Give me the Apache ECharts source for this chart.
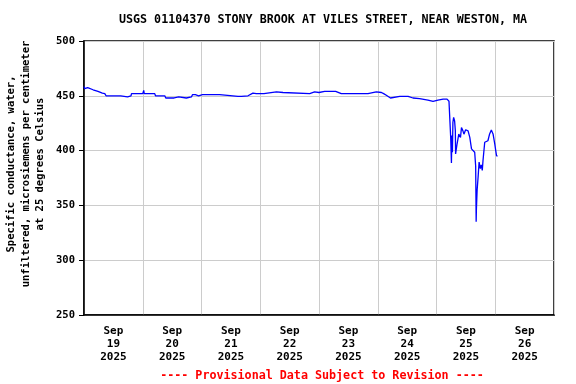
<!DOCTYPE html>
<html>
<head>
<meta charset="utf-8">
<script src="https://cdn.jsdelivr.net/npm/echarts@6/dist/echarts.min.js"></script>
<style>html,body{margin:0;padding:0;background:#fff}#c{width:576px;height:384px}</style>
</head>
<body>
<div id="c"></div>
<script>
// Hours since 2025-09-19 00:00
var hoursSinceStart = [
  0.0, 0.3, 0.7, 1.5, 3.7, 5.7, 7.5, 8.5, 9.0, 15.0, 15.3, 17.8, 18.0, 19.2, 19.4, 24.0, 24.4, 24.6,
  28.9, 29.2, 33.0, 33.4, 36.8, 37.1, 38.7, 39.1, 41.8, 42.1, 43.9, 44.3, 45.5, 45.9, 46.8, 47.0,
  48.4, 55.4, 55.8, 62.9, 63.3, 64.3, 67.0, 67.7, 69.0, 70.4, 73.5, 73.9, 78.6, 81.3, 81.6, 92.2,
  94.2, 96.0, 98.3, 102.8, 105.1, 116.0, 116.7, 119.4, 121.5, 122.4, 123.5, 125.2, 129.0, 132.4,
  134.4, 137.1, 140.5, 141.2, 142.6, 144.6, 146.7, 148.3, 149.1, 149.4, 149.8, 150.1, 150.3, 150.5,
  150.7, 151.0, 151.4, 151.7, 151.8, 152.4, 153.1, 153.8, 154.2, 154.8, 155.2, 155.9, 156.9, 157.6,
  158.3, 158.9, 159.6, 160.0, 160.2, 160.3, 160.6, 161.0, 161.4, 161.9, 162.3, 162.7, 163.0, 163.7,
  165.0, 165.7, 166.4, 167.1, 167.8, 168.2, 168.5, 168.9
];
var conductance = [
  458.5, 456.5, 456, 457.5, 455.5, 454, 452.5, 452, 450, 450, 449, 449, 450, 450, 452, 452, 455, 452,
  452, 450, 450, 448, 448, 449, 449, 448, 448, 449, 449, 451, 451, 450, 450, 451.5,
  451, 451, 449.5, 449.5, 448.5, 449.5, 450, 451, 452.5, 452, 452, 453.5, 453.5, 453, 452, 452,
  453.5, 453, 454, 454, 452, 452, 453, 453.5, 453, 452, 450.5, 448, 449.5, 449.5,
  448, 447.5, 446, 444.5, 445, 446, 447, 447, 445, 444, 412, 388.6, 413.7, 398.5,
  425.7, 430.3, 427, 418, 397, 406, 415, 412, 421, 418, 415, 419, 418, 412,
  401.6, 400, 398.5, 386, 335, 346.6, 364, 376, 389.5, 383.5, 387, 382, 391, 407.6,
  409, 415.2, 418.8, 415.2, 406.2, 400, 395.6, 394.7
];
var monthLabel = 'Sep';
var dayLabels = ['19', '20', '21', '22', '23', '24', '25', '26'];
var yearLabel = '2025';
var yTicks = [250, 300, 350, 400, 450, 500];
var titleText = 'USGS 01104370 STONY BROOK AT VILES STREET, NEAR WESTON, MA';
var yAxisName = 'Specific conductance, water,\nunfiltered, microsiemens per centimeter\nat 25 degrees Celsius';
var footerText = '---- Provisional Data Subject to Revision ----';

var seriesData = hoursSinceStart.map(function (h, i) { return [h, conductance[i]]; });
var FONT = 'DejaVu Sans Mono';

var chart = echarts.init(document.getElementById('c'), null, {renderer: 'canvas'});
chart.setOption({
  animation: false,
  backgroundColor: '#ffffff',
  title: [
    {text: titleText, left: 318, top: 9, textAlign: 'center',
     textStyle: {fontFamily: FONT, fontWeight: 'bold', fontSize: 11.7, color: '#000'}},
    {text: footerText, left: 317, top: 365, textAlign: 'center',
     textStyle: {fontFamily: FONT, fontWeight: 'bold', fontSize: 11.7, color: '#ff0000'}}
  ],
  graphic: [{
    type: 'text', x: 26, y: 164, rotation: Math.PI / 2, silent: true,
    style: {text: yAxisName, align: 'center', verticalAlign: 'middle', lineHeight: 14.5,
            fontFamily: FONT, fontWeight: 'bold', fontSize: 10.5, fill: '#000'}
  }],
  grid: {left: 84, right: 22, top: 41, bottom: 69, show: true, borderColor: '#000', borderWidth: 1.5,
         containLabel: false, outerBoundsMode: 'none'},
  xAxis: [
    {type: 'value', min: 0, max: 192, interval: 24, position: 'bottom',
     axisLine: {show: true, lineStyle: {color: '#000', width: 1.5}},
     axisTick: {show: false}, axisLabel: {show: false},
     splitLine: {show: true, lineStyle: {color: '#cccccc', width: 1}}},
    {type: 'value', min: 0, max: 192, interval: 12, position: 'bottom',
     axisLine: {show: false}, axisTick: {show: false}, splitLine: {show: false},
     axisLabel: {show: true, margin: 10, lineHeight: 13,
       fontFamily: FONT, fontWeight: 'bold', fontSize: 11, color: '#000',
       formatter: function (v) {
         if (v % 24 !== 12) return '';
         var k = (v - 12) / 24;
         return monthLabel + '\n' + dayLabels[k] + '\n' + yearLabel;
       }}}
  ],
  yAxis: {
    type: 'value', min: yTicks[0], max: yTicks[yTicks.length - 1], interval: 50,
    axisLine: {show: true, lineStyle: {color: '#000', width: 1.5}},
    axisTick: {show: true, inside: false, length: 5, lineStyle: {color: '#000'}},
    axisLabel: {margin: 9, fontFamily: FONT, fontWeight: 'bold', fontSize: 10.5, color: '#000'},
    splitLine: {show: true, lineStyle: {color: '#cccccc', width: 1}}
  },
  series: [{
    type: 'line', xAxisIndex: 0, data: seriesData, showSymbol: false, symbol: 'none',
    lineStyle: {color: '#0000ff', width: 1.3}, clip: true
  }]
});
</script>
</body>
</html>
